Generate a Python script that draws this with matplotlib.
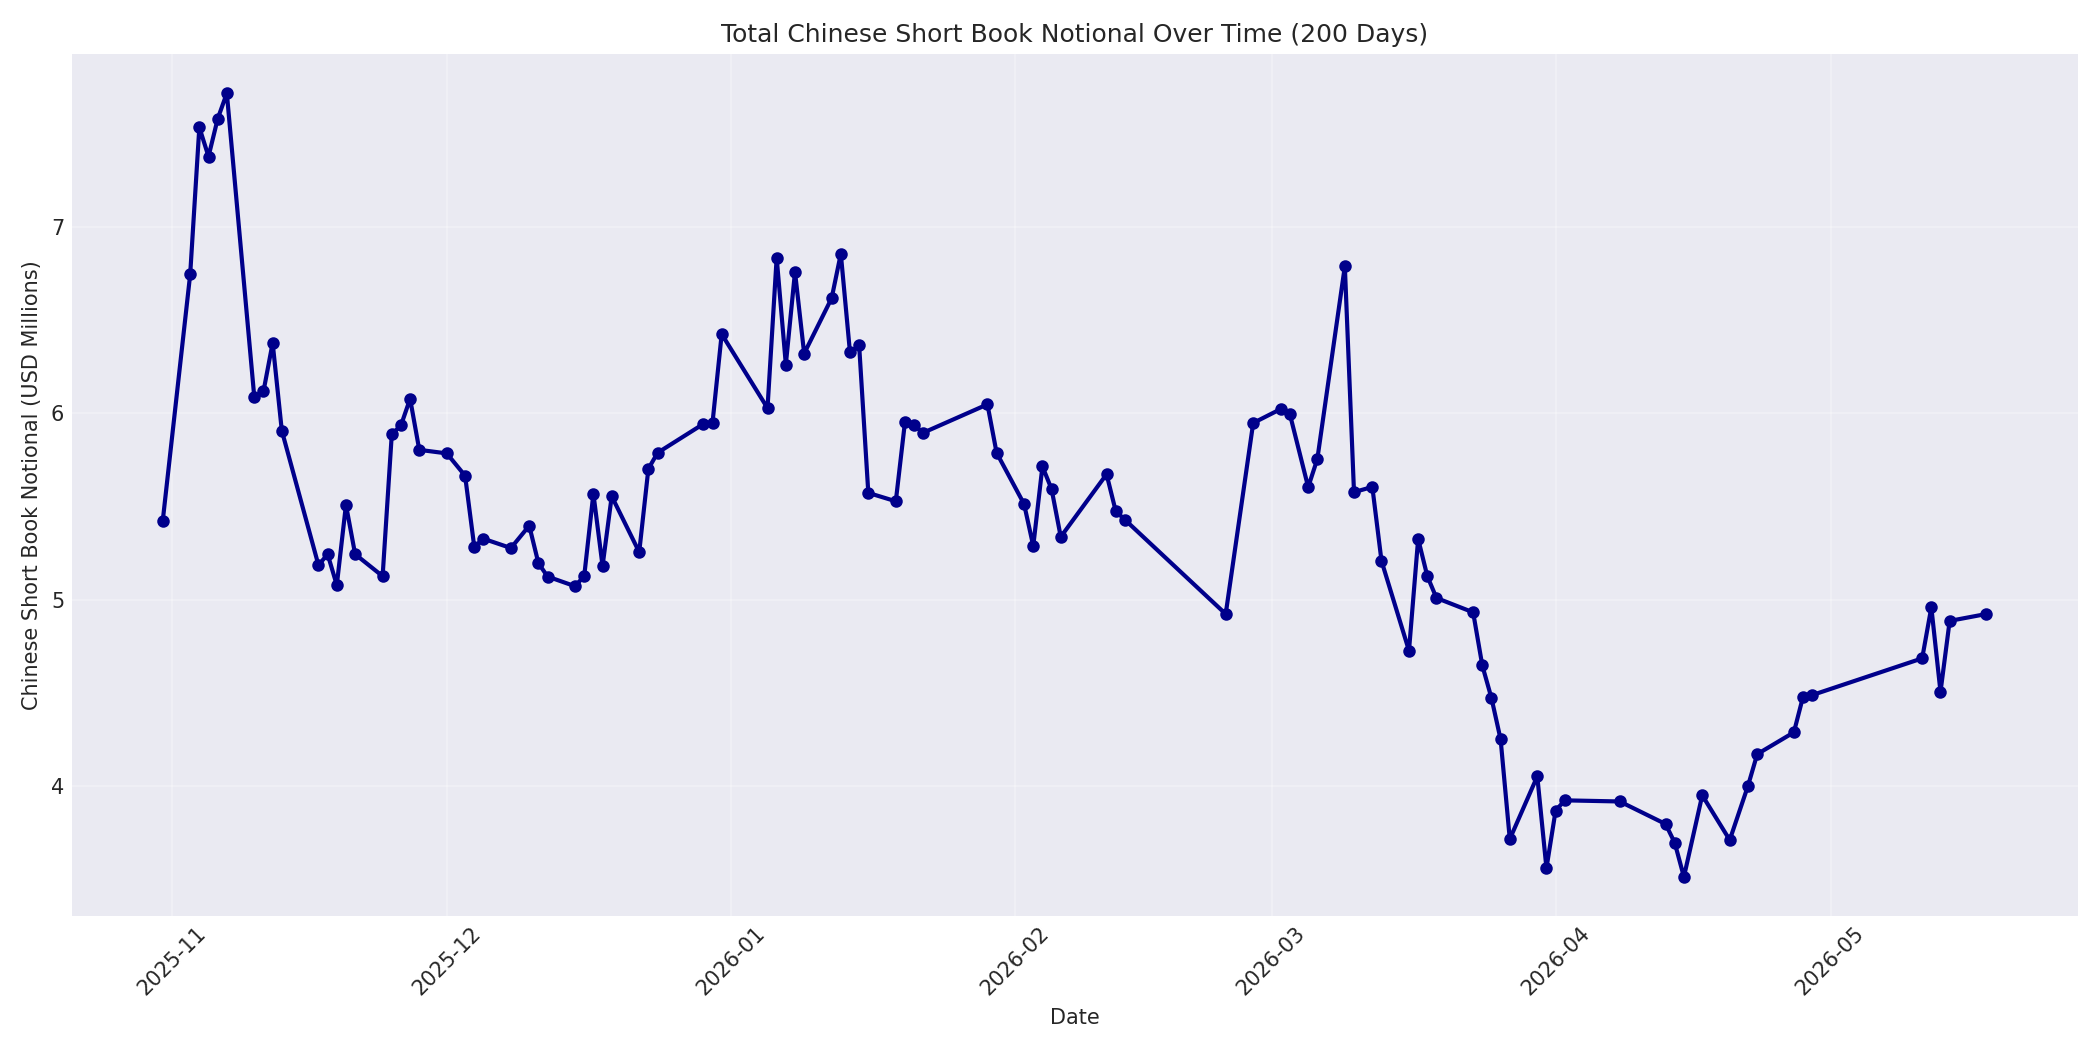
import matplotlib
matplotlib.use("Agg")
import matplotlib.pyplot as plt
import pandas as pd

dates = [
    "2025-10-31", "2025-11-03", "2025-11-04", "2025-11-05", "2025-11-06", "2025-11-07",
    "2025-11-10", "2025-11-11", "2025-11-12", "2025-11-13", "2025-11-17", "2025-11-18",
    "2025-11-19", "2025-11-20", "2025-11-21", "2025-11-24", "2025-11-25", "2025-11-26",
    "2025-11-27", "2025-11-28", "2025-12-01", "2025-12-03", "2025-12-04", "2025-12-05",
    "2025-12-08", "2025-12-10", "2025-12-11", "2025-12-12", "2025-12-15", "2025-12-16",
    "2025-12-17", "2025-12-18", "2025-12-19", "2025-12-22", "2025-12-23", "2025-12-24",
    "2025-12-29", "2025-12-30", "2025-12-31", "2026-01-05", "2026-01-06", "2026-01-07",
    "2026-01-08", "2026-01-09", "2026-01-12", "2026-01-13", "2026-01-14", "2026-01-15",
    "2026-01-16", "2026-01-19", "2026-01-20", "2026-01-21", "2026-01-22", "2026-01-29",
    "2026-01-30", "2026-02-02", "2026-02-03", "2026-02-04", "2026-02-05", "2026-02-06",
    "2026-02-11", "2026-02-12", "2026-02-13", "2026-02-24", "2026-02-27", "2026-03-02",
    "2026-03-03", "2026-03-05", "2026-03-06", "2026-03-09", "2026-03-10", "2026-03-12",
    "2026-03-13", "2026-03-16", "2026-03-17", "2026-03-18", "2026-03-19", "2026-03-23",
    "2026-03-24", "2026-03-25", "2026-03-26", "2026-03-27", "2026-03-30", "2026-03-31",
    "2026-04-01", "2026-04-02", "2026-04-08", "2026-04-13", "2026-04-14", "2026-04-15",
    "2026-04-17", "2026-04-20", "2026-04-22", "2026-04-23", "2026-04-27", "2026-04-28",
    "2026-04-29", "2026-05-11", "2026-05-12", "2026-05-13", "2026-05-14", "2026-05-18",
]

notional = [
    5.42, 6.745, 7.535, 7.378, 7.58, 7.718,
    6.085, 6.118, 6.378, 5.907, 5.185, 5.244,
    5.078, 5.509, 5.244, 5.126, 5.887, 5.935,
    6.078, 5.804, 5.785, 5.665, 5.284, 5.327,
    5.277, 5.397, 5.196, 5.124, 5.072, 5.127,
    5.569, 5.181, 5.555, 5.255, 5.702, 5.788,
    5.943, 5.95, 6.425, 6.028, 6.835, 6.262,
    6.759, 6.321, 6.618, 6.856, 6.327, 6.364,
    5.573, 5.528, 5.953, 5.935, 5.896, 6.048,
    5.788, 5.513, 5.288, 5.715, 5.593, 5.337,
    5.673, 5.475, 5.429, 4.923, 5.948, 6.023,
    5.996, 5.604, 5.755, 6.789, 5.577, 5.605,
    5.208, 4.726, 5.326, 5.126, 5.009, 4.932,
    4.647, 4.472, 4.250, 3.715, 4.052, 3.559,
    3.868, 3.923, 3.917, 3.796, 3.695, 3.512,
    3.95, 3.71, 4.002, 4.171, 4.288, 4.479,
    4.488, 4.685, 4.959, 4.505, 4.886, 4.923,
]

title = "Total Chinese Short Book Notional Over Time (200 Days)"
xlabel = "Date"
ylabel = "Chinese Short Book Notional (USD Millions)"

plt.style.use("seaborn-v0_8-darkgrid")
plt.rcParams["font.family"] = ["DejaVu Sans"]

x = pd.to_datetime(dates)

fig, ax = plt.subplots(figsize=(14, 7), dpi=150)
ax.plot(x, notional, color="darkblue", linewidth=2, marker="o", markersize=5)
ax.set_title(title, fontsize=12)
ax.set_xlabel(xlabel, fontsize=10)
ax.set_ylabel(ylabel, fontsize=10)
ax.grid(True, alpha=0.3)
plt.setp(ax.get_xticklabels(), rotation=45, fontsize=10)
plt.setp(ax.get_yticklabels(), fontsize=10)
fig.tight_layout()
fig.savefig("out.png", dpi=150)
